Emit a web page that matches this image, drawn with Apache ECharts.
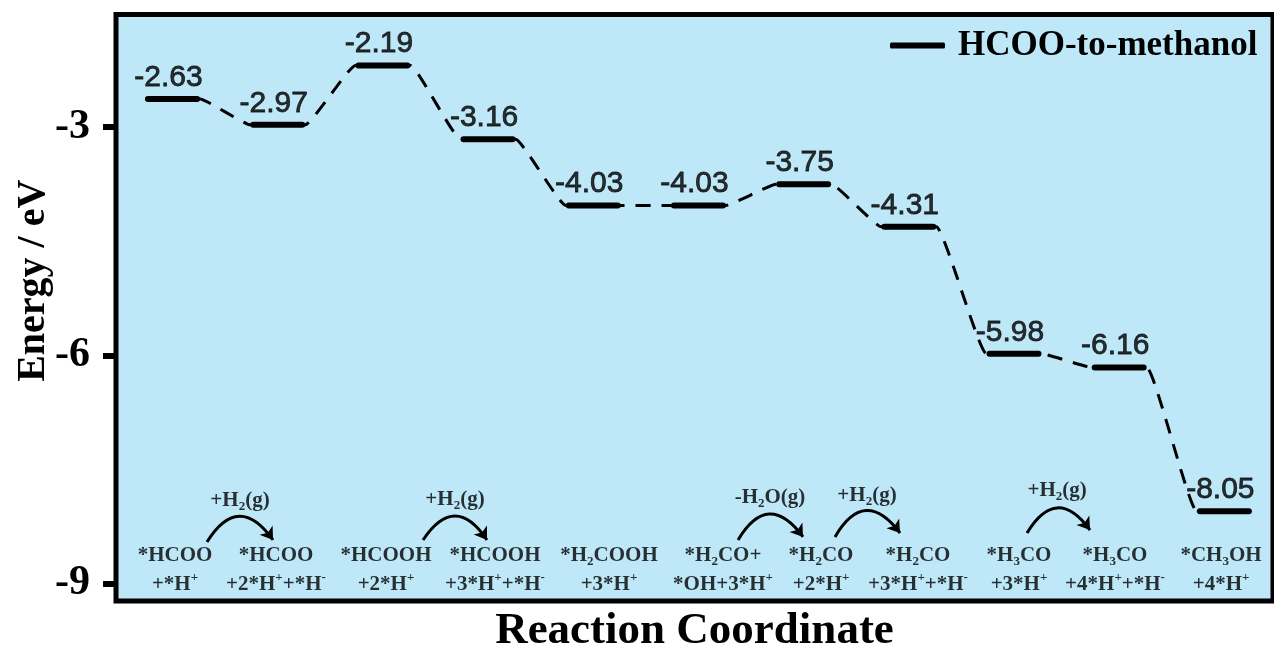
<!DOCTYPE html>
<html>
<head>
<meta charset="utf-8">
<script src="https://cdn.jsdelivr.net/npm/echarts@6/dist/echarts.min.js"></script>
<style>
  html, body { margin: 0; padding: 0; background: #fff; }
  #chart { width: 1274px; height: 652px; }
</style>
</head>
<body>
<div id="chart"></div>
<script>
// Free-energy levels (eV) along the HCOO-to-methanol hydrogenation pathway
const energies = [-2.63, -2.97, -2.19, -3.16, -4.03, -4.03, -3.75, -4.31, -5.98, -6.16, -8.05];

// Intermediate state of each step (rich-text markup: t = normal, b = subscript, p = superscript)
const species = [
  '{t|*HCOO}\n{t|+*H}{p|+}',
  '{t|*HCOO}\n{t|+2*H}{p|+}{t|+*H}{p|-}',
  '{t|*HCOOH}\n{t|+2*H}{p|+}',
  '{t|*HCOOH}\n{t|+3*H}{p|+}{t|+*H}{p|-}',
  '{t|*H}{b|2}{t|COOH}\n{t|+3*H}{p|+}',
  '{t|*H}{b|2}{t|CO+}\n{t|*OH+3*H}{p|+}',
  '{t|*H}{b|2}{t|CO}\n{t|+2*H}{p|+}',
  '{t|*H}{b|2}{t|CO}\n{t|+3*H}{p|+}{t|+*H}{p|-}',
  '{t|*H}{b|3}{t|CO}\n{t|+3*H}{p|+}',
  '{t|*H}{b|3}{t|CO}\n{t|+4*H}{p|+}{t|+*H}{p|-}',
  '{t|*CH}{b|3}{t|OH}\n{t|+4*H}{p|+}'
];

// Gas-phase species added or released between steps
const reagents = [
  '{t|+H}{b|2}{t|(g)}',
  '{t|+H}{b|2}{t|(g)}',
  '{t|-H}{b|2}{t|O(g)}',
  '{t|+H}{b|2}{t|(g)}',
  '{t|+H}{b|2}{t|(g)}'
];

const yTicks = [-9, -6, -3];
const seriesName = 'HCOO-to-methanol';

// ---- layout (axis units) ----
const LEVEL_START = 0.276;   // left end of a level within its step slot
const LEVEL_END = 0.799;     // right end of a level within its step slot
const LEVEL_MID = (LEVEL_START + LEVEL_END) / 2;
const SPECIES_Y = -8.82;
const speciesX = [0.561, 1.521, 2.567, 3.603, 4.687, 5.771, 6.703, 7.625, 8.585, 9.498, 10.506];
// curved arrows: [x1, y1, x2, y2]
const arrowPaths = [
  [0.865, -8.454, 1.493, -8.428],
  [2.919, -8.428, 3.527, -8.428],
  [5.914, -8.428, 6.532, -8.388],
  [6.836, -8.388, 7.454, -8.336],
  [8.661, -8.336, 9.260, -8.297]
];
// reagent label anchors: [x, y]
const reagentPos = [
  [1.179, -7.910],
  [3.223, -7.897],
  [6.218, -7.871],
  [7.140, -7.845],
  [8.947, -7.779]
];

const SERIF = "'Liberation Serif', 'Times New Roman', serif";
const SANS = "'Liberation Sans', Arial, sans-serif";
const INK = '#000';

const richStyles = {
  t: { fontFamily: SERIF, fontWeight: 'bold', fontSize: 21, lineHeight: 29, color: INK },
  b: { fontFamily: SERIF, fontWeight: 'bold', fontSize: 13, padding: [12, 0, 0, 0], color: INK },
  p: { fontFamily: SERIF, fontWeight: 'bold', fontSize: 13, padding: [0, 0, 13, 0], color: INK }
};

// dashed spline through both ends of every level
const connectorData = [];
energies.forEach((e, i) => {
  connectorData.push([i + LEVEL_START, e]);
  connectorData.push([i + LEVEL_END, e]);
});

const chart = echarts.init(document.getElementById('chart'));

chart.setOption({
  animation: false,
  backgroundColor: '#ffffff',
  grid: {
    left: 116, right: 1, top: 14.5, bottom: 51,
    show: true,
    backgroundColor: '#bee8f8',
    borderColor: INK,
    borderWidth: 5,
    outerBoundsMode: 'none'
  },
  legend: {
    data: [{ name: seriesName, icon: 'roundRect' }],
    left: 890, top: 28, padding: 0,
    itemWidth: 55, itemHeight: 6,
    itemStyle: { color: INK },
    textStyle: { fontFamily: SERIF, fontWeight: 'bold', fontSize: 35, color: INK, padding: [0, 0, 0, 8] },
    selectedMode: false
  },
  xAxis: {
    type: 'value', min: 0, max: 11,
    name: 'Reaction Coordinate',
    nameLocation: 'middle', nameGap: 8,
    nameMoveOverlap: false,
    nameTextStyle: { fontFamily: SERIF, fontWeight: 'bold', fontSize: 45, color: INK },
    axisLine: { show: false }, axisTick: { show: false },
    axisLabel: { show: false }, splitLine: { show: false }
  },
  yAxis: {
    type: 'value', min: -9.23, max: -1.52,
    name: 'Energy / eV',
    nameLocation: 'middle', nameGap: 62,
    nameMoveOverlap: false,
    nameTextStyle: { fontFamily: SERIF, fontWeight: 'bold', fontSize: 40, color: INK, padding: [0, 0, 0, 54] },
    axisLine: { show: false },
    axisTick: { show: true, customValues: yTicks, length: 13, lineStyle: { color: INK, width: 6 } },
    axisLabel: { customValues: yTicks, margin: 26, fontFamily: SERIF, fontWeight: 'bold', fontSize: 42, color: INK },
    splitLine: { show: false }
  },
  series: [
    {
      name: 'connector',
      type: 'line',
      data: connectorData,
      smooth: 0.1,
      symbol: 'none',
      silent: true,
      z: 2,
      lineStyle: { color: INK, width: 3, type: [15, 11] }
    },
    {
      name: seriesName,
      type: 'custom',
      data: energies.map((e, i) => [i, e]),
      encode: { x: 0, y: 1 },
      itemStyle: { color: INK },
      silent: true,
      z: 3,
      renderItem: function (params, api) {
        const i = api.value(0);
        const e = api.value(1);
        const a = api.coord([i + LEVEL_START, e]);
        const b = api.coord([i + LEVEL_END, e]);
        return {
          type: 'line',
          shape: { x1: a[0] + 3, y1: a[1], x2: b[0] - 3, y2: b[1] },
          style: { stroke: INK, lineWidth: 6, lineCap: 'round' }
        };
      }
    },
    {
      name: 'values',
      type: 'scatter',
      data: energies.map((e, i) => [i + LEVEL_MID, e]),
      symbolSize: 1,
      itemStyle: { color: 'rgba(0,0,0,0)' },
      silent: true,
      z: 4,
      label: {
        show: true, position: 'top', distance: 6, offset: [-4, 0],
        formatter: p => p.value[1].toFixed(2),
        fontFamily: SANS, fontSize: 30, color: INK,
        textBorderColor: INK, textBorderWidth: 0.8
      }
    },
    {
      name: 'species',
      type: 'scatter',
      data: speciesX.map((x, i) => ({ value: [x, SPECIES_Y], label: { formatter: species[i] } })),
      symbolSize: 1,
      itemStyle: { color: 'rgba(0,0,0,0)' },
      silent: true,
      z: 4,
      label: { show: true, position: 'inside', align: 'center', rich: richStyles }
    },
    {
      name: 'reagents',
      type: 'scatter',
      data: reagentPos.map((p, i) => ({ value: p, label: { formatter: reagents[i] } })),
      symbolSize: 1,
      itemStyle: { color: 'rgba(0,0,0,0)' },
      silent: true,
      z: 4,
      label: { show: true, position: 'inside', align: 'center', rich: richStyles }
    },
    {
      name: 'arrows',
      type: 'lines',
      coordinateSystem: 'cartesian2d',
      data: arrowPaths.map(a => ({ coords: [[a[0], a[1]], [a[2], a[3]]] })),
      symbol: ['none', 'arrow'],
      symbolSize: 12,
      silent: true,
      z: 4,
      lineStyle: { color: INK, width: 3, curveness: 0.75, opacity: 1 }
    }
  ]
});
</script>
</body>
</html>
